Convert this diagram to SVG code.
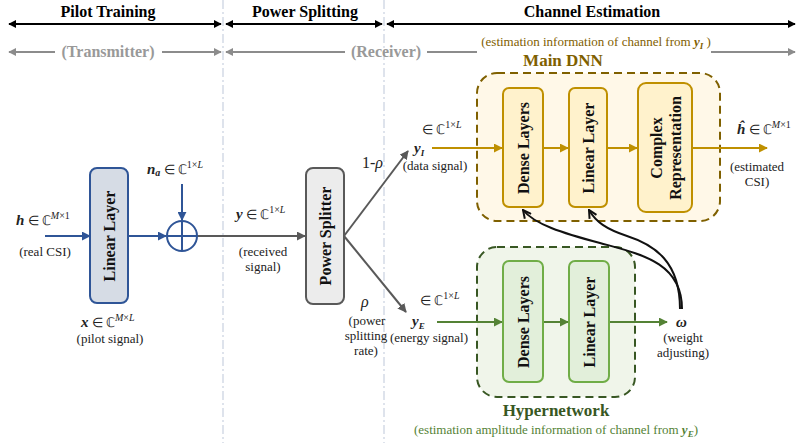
<svg xmlns="http://www.w3.org/2000/svg" width="797" height="443" viewBox="0 0 797 443" font-family="Liberation Serif">
<defs>
<style>
text{font-family:"Liberation Serif", serif;}
.hd{font-size:16px;font-weight:bold;fill:#000;text-anchor:middle;}
.gr{font-size:16px;font-weight:bold;fill:#999;text-anchor:middle;}
.lb{font-size:13px;fill:#222;text-anchor:middle;}
.m{font-size:13px;fill:#222;}
.v{font-weight:bold;font-style:italic;}
.sup{font-size:10px;}
.it{font-style:italic;}
.box{font-size:16px;font-weight:bold;fill:#111;text-anchor:middle;}
.div{stroke:#c9d1e0;stroke-width:1.2;stroke-dasharray:9,3,2,3;fill:none;}
.blk{stroke:#000;stroke-width:2;fill:none;}
.gry{stroke:#8c8c8c;stroke-width:2;fill:none;}
.blue{stroke:#2f5597;stroke-width:2;fill:none;}
.dg{stroke:#595959;stroke-width:2;fill:none;}
.gold{stroke:#bf9000;stroke-width:2;fill:none;}
.grn{stroke:#548235;stroke-width:2;fill:none;}
.crv{stroke:#111;stroke-width:2;fill:none;}
</style>
<marker id="ab" viewBox="0 0 10 10" refX="9" refY="5" markerWidth="4" markerHeight="4" orient="auto-start-reverse"><path d="M0,0L10,5L0,10z" fill="#000"/></marker>
<marker id="ag" viewBox="0 0 10 10" refX="9" refY="5" markerWidth="4" markerHeight="4" orient="auto-start-reverse"><path d="M0,0L10,5L0,10z" fill="#8c8c8c"/></marker>
<marker id="abl" viewBox="0 0 10 10" refX="9" refY="5" markerWidth="4.5" markerHeight="4.5" orient="auto"><path d="M0,0L10,5L0,10z" fill="#2f5597"/></marker>
<marker id="adg" viewBox="0 0 10 10" refX="9" refY="5" markerWidth="4.5" markerHeight="4.5" orient="auto"><path d="M0,0L10,5L0,10z" fill="#595959"/></marker>
<marker id="agd" viewBox="0 0 10 10" refX="9" refY="5" markerWidth="4.5" markerHeight="4.5" orient="auto"><path d="M0,0L10,5L0,10z" fill="#bf9000"/></marker>
<marker id="agn" viewBox="0 0 10 10" refX="9" refY="5" markerWidth="4.5" markerHeight="4.5" orient="auto"><path d="M0,0L10,5L0,10z" fill="#548235"/></marker>
<marker id="chev" viewBox="0 0 10 10" refX="9" refY="5" markerWidth="5" markerHeight="5" orient="auto"><path d="M1,1L9,5L1,9" fill="none" stroke="#111" stroke-width="2"/></marker>
</defs>

<g id="dividers">
<line class="div" x1="223" y1="0" x2="223" y2="443"/>
<line class="div" x1="384" y1="0" x2="384" y2="443"/>
</g>

<g id="headers">
<text class="hd" x="108" y="17">Pilot Training</text>
<text class="hd" x="305" y="17">Power Splitting</text>
<text class="hd" x="592" y="17">Channel Estimation</text>
<line class="blk" x1="9" y1="24" x2="221" y2="24" marker-start="url(#ab)" marker-end="url(#ab)"/>
<line class="blk" x1="226" y1="24" x2="382" y2="24" marker-start="url(#ab)" marker-end="url(#ab)"/>
<line class="blk" x1="387" y1="24" x2="795" y2="24" marker-start="url(#ab)" marker-end="url(#ab)"/>
<text class="gr" x="108" y="57">(Transmitter)</text>
<line class="gry" x1="9" y1="52" x2="55" y2="52" marker-start="url(#ag)"/>
<line class="gry" x1="162" y1="52" x2="221" y2="52" marker-end="url(#ag)"/>
<line class="gry" x1="226" y1="52" x2="345" y2="52" marker-start="url(#ag)"/>
<text class="gr" x="386" y="57">(Receiver)</text>
<line class="gry" x1="427" y1="52" x2="477" y2="52"/>
<text x="596" y="46" font-size="13" fill="#7f6000" text-anchor="middle">(estimation information of channel  from <tspan class="v">y</tspan><tspan class="v" font-size="9" dy="3">I</tspan><tspan dy="-3"> )</tspan></text>
<line class="gry" x1="711" y1="52" x2="795" y2="52" marker-end="url(#ag)"/>
</g>

<g id="main-dnn-container">
<rect x="477" y="73" width="243" height="148" rx="20" fill="#fff8e8" stroke="#7f6000" stroke-width="2" stroke-dasharray="8,5"/>
<text x="563" y="66" font-size="17" font-weight="bold" fill="#7f6000" text-anchor="middle">Main DNN</text>
</g>
<g id="hyper-container">
<rect x="477" y="247" width="158" height="150" rx="20" fill="#f0f5ea" stroke="#385723" stroke-width="2" stroke-dasharray="8,5"/>
<text x="556" y="416" font-size="17" font-weight="bold" fill="#385723" text-anchor="middle">Hypernetwork</text>
<text x="556" y="434" font-size="13" fill="#548235" text-anchor="middle">(estimation amplitude information of channel  from <tspan class="v">y</tspan><tspan class="v" font-size="9" dy="3">E</tspan><tspan dy="-3">)</tspan></text>
</g>

<g id="connectors">
<line class="blue" x1="45" y1="236" x2="90" y2="236" marker-end="url(#abl)"/>
<line class="blue" x1="128" y1="236" x2="166" y2="236" marker-end="url(#abl)"/>
<line class="blue" x1="182" y1="184" x2="182" y2="220" marker-end="url(#abl)"/>
<line class="dg" x1="197" y1="236" x2="305" y2="236" marker-end="url(#adg)"/>
<line class="dg" x1="344" y1="236" x2="408" y2="151" marker-end="url(#adg)"/>
<line class="dg" x1="344" y1="236" x2="406" y2="312" marker-end="url(#adg)"/>
<line class="gold" x1="432" y1="148" x2="502" y2="148" marker-end="url(#agd)"/>
<line class="gold" x1="543" y1="148" x2="568" y2="148" marker-end="url(#agd)"/>
<line class="gold" x1="607" y1="148" x2="637" y2="148" marker-end="url(#agd)"/>
<line class="gold" x1="692" y1="148" x2="767" y2="148" marker-end="url(#agd)"/>
<line class="grn" x1="437" y1="322" x2="502" y2="322" marker-end="url(#agn)"/>
<line class="grn" x1="543" y1="322" x2="568" y2="322" marker-end="url(#agn)"/>
<line class="grn" x1="609" y1="322" x2="667" y2="322" marker-end="url(#agn)"/>
<path class="crv" d="M682,309 C682,262 640,254 600,243 C562,233 534,224 523,210" marker-end="url(#chev)"/>
<path class="crv" d="M680,309 C680,262 655,245 627,236 C606,229 596,222 589,210" marker-end="url(#chev)"/>
</g>

<g id="linear-layer-tx">
<rect x="90" y="168" width="38" height="135" rx="7" fill="#d6dce5" stroke="#2f5597" stroke-width="2"/>
<text class="box" transform="translate(115,236) rotate(-90)">Linear Layer</text>
</g>
<g id="adder">
<circle cx="182" cy="236" r="15" fill="none" stroke="#2f5597" stroke-width="2"/>
<line class="blue" x1="167" y1="236" x2="197" y2="236"/>
<line class="blue" x1="182" y1="221" x2="182" y2="251"/>
</g>
<g id="power-splitter">
<rect x="306" y="168" width="38" height="136" rx="7" fill="#ececec" stroke="#595959" stroke-width="2"/>
<text class="box" transform="translate(331,236) rotate(-90)">Power Splitter</text>
</g>
<g id="main-dense">
<rect x="503" y="88" width="40" height="119" rx="6" fill="#fff2cc" stroke="#bf9000" stroke-width="2"/>
<text class="box" transform="translate(529,148) rotate(-90)">Dense Layers</text>
</g>
<g id="main-linear">
<rect x="569" y="88" width="38" height="119" rx="6" fill="#fff2cc" stroke="#bf9000" stroke-width="2"/>
<text class="box" transform="translate(594,148) rotate(-90)">Linear Layer</text>
</g>
<g id="main-complex">
<rect x="638" y="83" width="54" height="129" rx="8" fill="#fff2cc" stroke="#bf9000" stroke-width="2"/>
<text class="box" transform="translate(662,148) rotate(-90)">Complex</text>
<text class="box" transform="translate(681,148) rotate(-90)">Representation</text>
</g>
<g id="hyper-dense">
<rect x="503" y="261" width="40" height="121" rx="6" fill="#e2efda" stroke="#70ad47" stroke-width="2"/>
<text class="box" transform="translate(529,322) rotate(-90)">Dense Layers</text>
</g>
<g id="hyper-linear">
<rect x="569" y="261" width="40" height="121" rx="6" fill="#e2efda" stroke="#70ad47" stroke-width="2"/>
<text class="box" transform="translate(595,322) rotate(-90)">Linear Layer</text>
</g>

<g id="labels">
<text class="m" x="16" y="225"><tspan class="v" font-size="15">h</tspan> ∈ ℂ<tspan class="sup" dy="-6"><tspan class="it">M</tspan>×1</tspan></text>
<text class="lb" x="45" y="256">(real CSI)</text>
<text class="m" x="147" y="174"><tspan class="v" font-size="15">n</tspan><tspan class="v" font-size="10" dy="2">a</tspan><tspan dy="-2"> ∈ ℂ</tspan><tspan class="sup" dy="-6">1×<tspan class="it">L</tspan></tspan></text>
<text class="m" x="81" y="327"><tspan class="v" font-size="15">x</tspan> ∈ ℂ<tspan class="sup" dy="-6"><tspan class="it">M</tspan>×<tspan class="it">L</tspan></tspan></text>
<text class="lb" x="110" y="343">(pilot signal)</text>
<text class="m" x="236" y="219"><tspan class="v" font-size="15">y</tspan> ∈ ℂ<tspan class="sup" dy="-6">1×<tspan class="it">L</tspan></tspan></text>
<text class="lb" x="263" y="256">(received</text>
<text class="lb" x="263" y="271">signal)</text>
<text x="362" y="168" style="font-size:16px;fill:#222">1-<tspan font-style="italic">ρ</tspan></text>
<text x="361" y="307" style="font-size:16px;fill:#222;font-style:italic">ρ</text>
<text class="lb" x="367" y="325" text-anchor="end">(power</text>
<text class="lb" x="366" y="340" text-anchor="end">splitting</text>
<text class="lb" x="366" y="355" text-anchor="end">rate)</text>
<text class="m" x="422" y="134">∈ ℂ<tspan class="sup" dy="-6">1×<tspan class="it">L</tspan></tspan></text>
<text class="m" x="414" y="153"><tspan class="v" font-size="15">y</tspan><tspan class="v" font-size="9" dy="3">I</tspan></text>
<text class="lb" x="435" y="170">(data signal)</text>
<text class="m" x="420" y="305">∈ ℂ<tspan class="sup" dy="-6">1×<tspan class="it">L</tspan></tspan></text>
<text class="m" x="412" y="326"><tspan class="v" font-size="15">y</tspan><tspan class="v" font-size="9" dy="3">E</tspan></text>
<text class="lb" x="429" y="342">(energy signal)</text>
<text class="m" x="737" y="134"><tspan class="v" font-size="15">ĥ</tspan> ∈ ℂ<tspan class="sup" dy="-6"><tspan class="it">M</tspan>×1</tspan></text>
<text class="lb" x="757" y="171">(estimated</text>
<text class="lb" x="757" y="186">CSI)</text>
<text x="676" y="327" style="font-size:15px;fill:#222;font-weight:bold;font-style:italic">ω</text>
<text class="lb" x="683" y="342">(weight</text>
<text class="lb" x="683" y="357">adjusting)</text>
</g>
</svg>
